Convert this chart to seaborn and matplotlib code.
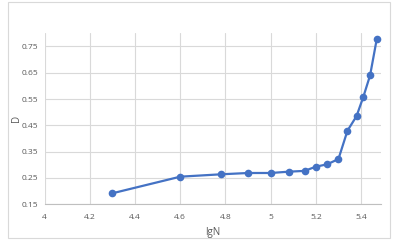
import matplotlib
matplotlib.use("Agg")
import matplotlib.pyplot as plt
import seaborn as sns
import pandas as pd
from matplotlib.patches import Rectangle

lgN = [4.30, 4.60, 4.78, 4.90, 5.00, 5.08, 5.15, 5.20, 5.25, 5.30, 5.34, 5.38, 5.41, 5.44, 5.47]
D = [0.192, 0.255, 0.264, 0.269, 0.269, 0.274, 0.277, 0.293, 0.302, 0.322, 0.430, 0.485, 0.558, 0.640, 0.780]
x_ticks = [4.0, 4.2, 4.4, 4.6, 4.8, 5.0, 5.2, 5.4]
x_tick_labels = ["4", "4.2", "4.4", "4.6", "4.8", "5", "5.2", "5.4"]
y_ticks = [0.15, 0.25, 0.35, 0.45, 0.55, 0.65, 0.75]
y_tick_labels = ["0.15", "0.25", "0.35", "0.45", "0.55", "0.65", "0.75"]

df = pd.DataFrame({"lgN": lgN, "D": D})

sns.set_theme(style="white")
plt.rcParams["font.family"] = ["Open Sans", "DejaVu Sans"]

fig = plt.figure(figsize=(3.96, 2.44), dpi=100)
fig.patches.append(Rectangle((8/396, 6/244), 382/396, 236/244, transform=fig.transFigure,
                             fill=False, edgecolor="#d9d9d9", linewidth=0.8))
ax = fig.add_axes([44.7/396, 1 - 204.3/244, (380.7 - 44.7)/396, (204.3 - 33.3)/244])

sns.lineplot(data=df, x="lgN", y="D", ax=ax, color="#4472C4", linewidth=1.6,
             marker="o", markersize=5.5, markeredgewidth=0)

ax.set_xlim(4.0, 5.487)
ax.set_ylim(0.15, 0.80)
ax.set_xticks(x_ticks)
ax.set_xticklabels(x_tick_labels)
ax.set_yticks(y_ticks)
ax.set_yticklabels(y_tick_labels)
ax.grid(True, color="#d9d9d9", linewidth=0.8)
ax.set_axisbelow(True)
for s in ["top", "right", "left"]:
    ax.spines[s].set_visible(False)
ax.spines["bottom"].set_color("#bfbfbf")
ax.spines["bottom"].set_linewidth(0.8)
ax.tick_params(axis="x", length=0, labelsize=6, colors="#595959", pad=7)
ax.tick_params(axis="y", length=0, labelsize=6, colors="#595959", pad=4.5)
ax.set_xlabel("lgN", fontsize=7, color="#595959", labelpad=4)
ax.set_ylabel("D", fontsize=7, color="#595959", labelpad=0)

fig.savefig("out.png", dpi=100, facecolor="white")
